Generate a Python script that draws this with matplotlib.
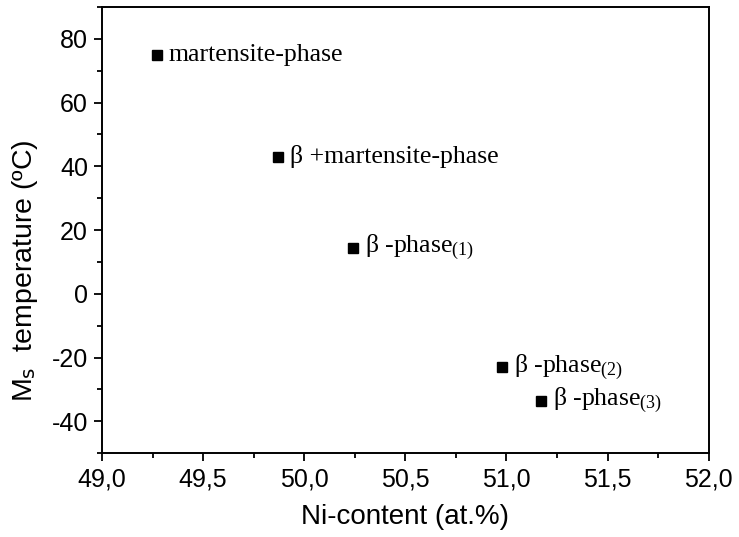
import matplotlib
matplotlib.use("Agg")
import matplotlib.pyplot as plt
from matplotlib.ticker import MultipleLocator, FuncFormatter

ni = [49.27, 49.87, 50.24, 50.98, 51.17]
ms = [75, 43, 14.5, -23, -33.5]
labels = ["martensite-phase", "β +martensite-phase", "β -phase$_{(1)}$",
          "β -phase$_{(2)}$", "β -phase$_{(3)}$"]

plt.rcParams['mathtext.fontset'] = 'custom'
plt.rcParams['mathtext.rm'] = 'Liberation Serif'
plt.rcParams['mathtext.it'] = 'Liberation Serif'
plt.rcParams['mathtext.default'] = 'rm'

fig = plt.figure(figsize=(7.39, 5.37), dpi=100)
ax = fig.add_axes([0.138, 0.156, 0.821, 0.831])
ax.plot(ni, ms, 's', color='black', markersize=6.5, linestyle='none')
for x, y, t in zip(ni, ms, labels):
    ax.annotate(t, (x, y), xytext=(8.5, 0), textcoords='offset points', va='center', ha='left',
                fontsize=18.5, family='Liberation Serif')

ax.set_xlim(49.0, 52.0)
ax.set_ylim(-50, 90)
ax.xaxis.set_major_locator(MultipleLocator(0.5))
ax.xaxis.set_minor_locator(MultipleLocator(0.25))
ax.yaxis.set_major_locator(MultipleLocator(20))
ax.yaxis.set_minor_locator(MultipleLocator(10))
ax.xaxis.set_major_formatter(FuncFormatter(lambda v, p: f"{v:.1f}".replace('.', ',')))
ax.yaxis.set_major_formatter(FuncFormatter(lambda v, p: f"{v:.0f}"))
ax.tick_params(which='major', direction='out', length=6, width=1.3, labelsize=18, pad=4)
ax.tick_params(which='minor', direction='out', length=3.5, width=1.3)
for lab in ax.get_xticklabels() + ax.get_yticklabels():
    lab.set_family('Liberation Sans')
for s in ax.spines.values():
    s.set_linewidth(1.4)
ax.set_xlabel("Ni-content (at.%)", fontsize=20, family='Liberation Sans', labelpad=9)
ax.set_ylabel("M$_{\\mathsf{s}}$  temperature (ºC)", fontsize=20.5, family='Liberation Sans')
ax.yaxis.set_label_coords(-0.102, 0.408)

fig.savefig("out.png", dpi=100)
